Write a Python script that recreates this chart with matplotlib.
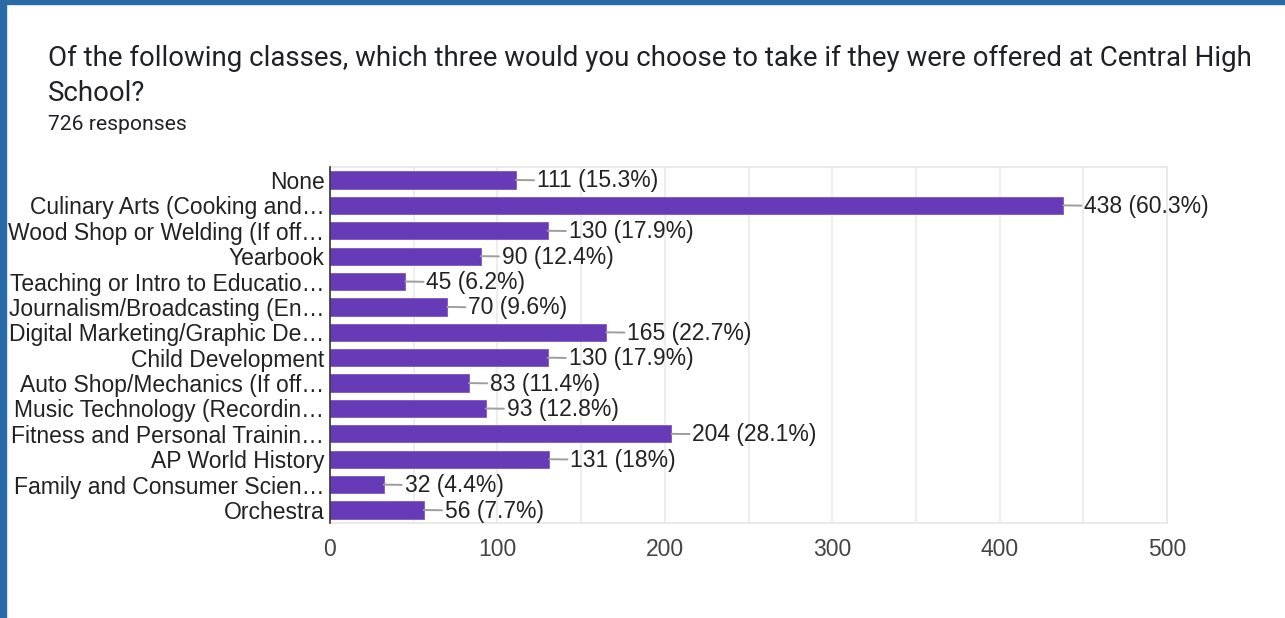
import matplotlib as mpl
mpl.use("Agg")
import matplotlib.pyplot as plt
import numpy as np
from matplotlib.patches import Rectangle

# Data
classes = [
    "None",
    "Culinary Arts (Cooking and\u2026",
    "Wood Shop or Welding (If off\u2026",
    "Yearbook",
    "Teaching or Intro to Educatio\u2026",
    "Journalism/Broadcasting (En\u2026",
    "Digital Marketing/Graphic De\u2026",
    "Child Development",
    "Auto Shop/Mechanics (If off\u2026",
    "Music Technology (Recordin\u2026",
    "Fitness and Personal Trainin\u2026",
    "AP World History",
    "Family and Consumer Scien\u2026",
    "Orchestra",
]
counts = [111, 438, 130, 90, 45, 70, 165, 130, 83, 93, 204, 131, 32, 56]
percents = ["15.3%", "60.3%", "17.9%", "12.4%", "6.2%", "9.6%", "22.7%",
            "17.9%", "11.4%", "12.8%", "28.1%", "18%", "4.4%", "7.7%"]
xticks = [0, 100, 200, 300, 400, 500]

W, H = 1285, 618
fig = plt.figure(figsize=(W / 100, H / 100), dpi=100)
fig.patch.set_facecolor("white")

# blue frame on top and left
blue = "#2a6aa6"
fig.patches.append(Rectangle((0, 1 - 4 / H), 1, 4 / H, transform=fig.transFigure,
                             color=blue, zorder=10))
fig.patches.append(Rectangle((0, 0), 6 / W, 1, transform=fig.transFigure,
                             color=blue, zorder=10))

# header text
fig.text(48 / W, 1 - 66 / H, "Of the following classes, which three would you choose to take if they were offered at Central High",
         family="Roboto", fontsize=19.9, color="#202124", va="baseline")
fig.text(48 / W, 1 - 101 / H, "School?",
         family="Roboto", fontsize=19.9, color="#202124", va="baseline")
fig.text(48 / W, 1 - 130 / H, "726 responses",
         family="Roboto", fontsize=15.2, color="#202124", va="baseline")

x0, x1 = 330, 1167
y_top, y_bot = 167.3, 522.7
ax = fig.add_axes([x0 / W, 1 - y_bot / H, (x1 - x0) / W, (y_bot - y_top) / H])

fs = 16.5
y = np.arange(len(classes))
ax.barh(y, counts, height=0.68, color="#673ab7", edgecolor="#7e57c2", linewidth=0.6, zorder=3)
ax.set_ylim(len(classes) - 0.5, -0.5)
ax.set_xlim(0, 500)

ax.set_yticks(y)
ax.set_yticklabels(classes, family="Liberation Sans", fontsize=fs, color="#222222")
ax.set_xticks(xticks)
ax.set_xticklabels([str(t) for t in xticks], family="Liberation Sans", fontsize=fs, color="#444444")
ax.set_xticks(np.arange(50, 500, 100), minor=True)
ax.tick_params(axis="both", which="both", length=0)
ax.tick_params(axis="y", pad=4)
ax.tick_params(axis="x", pad=11)

ax.grid(axis="x", which="both", color="#ebebeb", linewidth=1.2, zorder=0)
for side in ["top", "right", "bottom"]:
    ax.spines[side].set_color("#e6e6e6")
    ax.spines[side].set_linewidth(1.2)
ax.spines["left"].set_color("#333333")
ax.spines["left"].set_linewidth(1.2)
ax.spines["left"].set_zorder(4)

for yi, c, p in zip(y, counts, percents):
    ax.annotate(f"{c} ({p})", xy=(c, yi), xytext=(21, -1), textcoords="offset pixels",
                ha="left", va="center", family="Liberation Sans", fontsize=fs,
                color="#222222",
                arrowprops=dict(arrowstyle="-", color="#9e9e9e", lw=1.4,
                                shrinkA=0, shrinkB=0))

fig.savefig("out.png", dpi=100)
